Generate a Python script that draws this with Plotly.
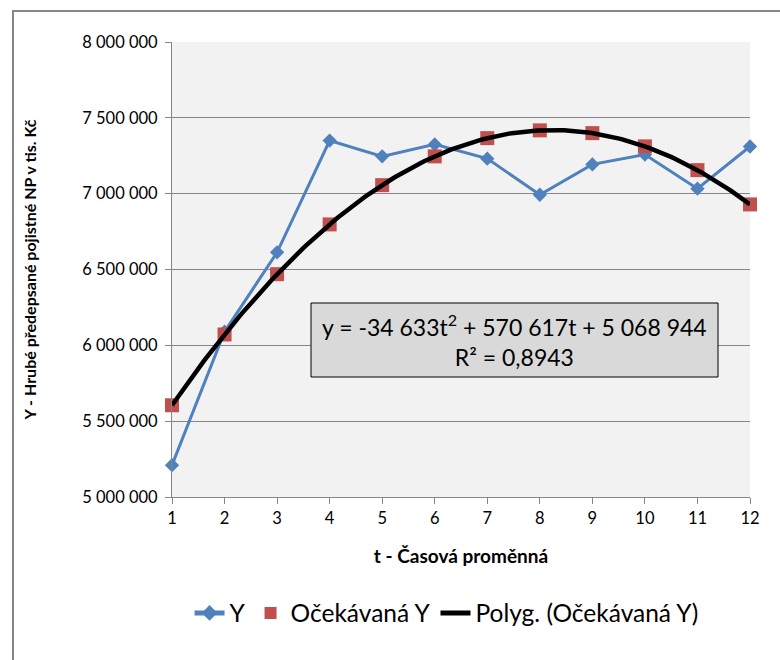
import numpy as np
import plotly.graph_objects as go

# Time variable and observed values
t = [1, 2, 3, 4, 5, 6, 7, 8, 9, 10, 11, 12]
y_obs = [5210000, 6090000, 6613000, 7350000, 7246000, 7325000,
         7231000, 6993000, 7193000, 7258000, 7033000, 7311000]
# Expected values from the quadratic trend
y_exp = [5604928, 6071646, 6469098, 6797284, 7056204, 7245858,
         7366246, 7417368, 7399224, 7311814, 7155138, 6929196]
# Quadratic trend coefficients (t^2, t, const)
trend_coef = [-34633, 570617, 5068944]
r_squared = "0,8943"

y_ticks = [5000000, 5500000, 6000000, 6500000, 7000000, 7500000, 8000000]
y_tick_labels = ["5 000 000", "5 500 000", "6 000 000", "6 500 000",
                 "7 000 000", "7 500 000", "8 000 000"]

BLUE = "#4F81BD"
RED = "#C0504D"
GRID = "#868686"
FONT = "Lato"

# plot-area geometry in pixels (used to place paper-referenced shapes)
W, H = 780, 660
L, R, T, B = 172, 30, 42, 163
PW, PH = W - L - R, H - T - B


def px_x(px):
    return (px - L) / PW


def px_y(py):
    return (H - B - py) / PH


t_fine = np.linspace(min(t), max(t), 200)
y_fine = np.polyval(trend_coef, t_fine)

fig = go.Figure()
fig.add_trace(go.Scatter(
    x=t, y=y_obs, name="Y", mode="lines+markers",
    line=dict(color=BLUE, width=3),
    marker=dict(symbol="diamond", size=11, color=BLUE),
    cliponaxis=False, hoverinfo="skip"))
fig.add_trace(go.Scatter(
    x=t, y=y_exp, name="Očekávaná Y", mode="markers",
    marker=dict(symbol="square", size=14, color=RED),
    cliponaxis=False, hoverinfo="skip"))
fig.add_trace(go.Scatter(
    x=t_fine, y=y_fine, name="Polyg. (Očekávaná Y)", mode="lines",
    line=dict(color="black", width=4.5),
    cliponaxis=False, hoverinfo="skip"))

eq_text = ("y = -34 633t<sup>2</sup> + 570 617t + 5 068 944<br>"
           "R² = " + r_squared)

fig.update_layout(
    width=W, height=H,
    margin=dict(l=L, r=R, t=T, b=B),
    paper_bgcolor="white",
    plot_bgcolor="#F2F2F2",
    font=dict(family=FONT, color="black", size=16),
    showlegend=True,
    legend=dict(orientation="h", x=0.475, xanchor="center",
                y=px_y(613), yanchor="middle",
                font=dict(size=24.5, family=FONT), bgcolor="rgba(0,0,0,0)",
                itemsizing="constant"),
    xaxis=dict(range=[1, 12], tickmode="array", tickvals=t,
               ticktext=[str(v) for v in t],
               showgrid=False, zeroline=False,
               showline=True, linecolor=GRID, linewidth=1,
               ticks="outside", ticklen=6, tickcolor=GRID,
               tickfont=dict(size=16.5),
               title=dict(text="t - Časová proměnná",
                          font=dict(size=19, weight="bold"), standoff=22)),
    yaxis=dict(range=[5000000, 8000000], tickmode="array",
               tickvals=y_ticks, ticktext=y_tick_labels,
               showgrid=True, gridcolor=GRID, gridwidth=1, zeroline=False,
               showline=True, linecolor=GRID, linewidth=1,
               ticks="outside", ticklen=6, tickcolor=GRID,
               ticklabelstandoff=4,
               tickfont=dict(size=16.5),
               title=dict(text="Y - Hrubé předepsané pojistné NP v tis. Kč",
                          font=dict(size=16, weight="bold"), standoff=41)),
    shapes=[
        # chart frame (runs off the right and bottom edges)
        dict(type="rect", xref="paper", yref="paper",
             x0=px_x(13), x1=px_x(800), y0=px_y(680), y1=px_y(11),
             line=dict(color=GRID, width=2), fillcolor="rgba(0,0,0,0)",
             layer="below"),
        # trendline equation box
        dict(type="rect", xref="paper", yref="paper",
             x0=px_x(311), x1=px_x(718), y0=px_y(377), y1=px_y(303),
             line=dict(color="black", width=1), fillcolor="#D9D9D9",
             layer="above"),
    ],
    annotations=[
        dict(xref="paper", yref="paper", x=px_x(514.5), y=px_y(340),
             xanchor="center", yanchor="middle", showarrow=False,
             text=eq_text, align="center",
             font=dict(size=23, family=FONT, color="black")),
    ],
)

fig.write_html("out.html")
